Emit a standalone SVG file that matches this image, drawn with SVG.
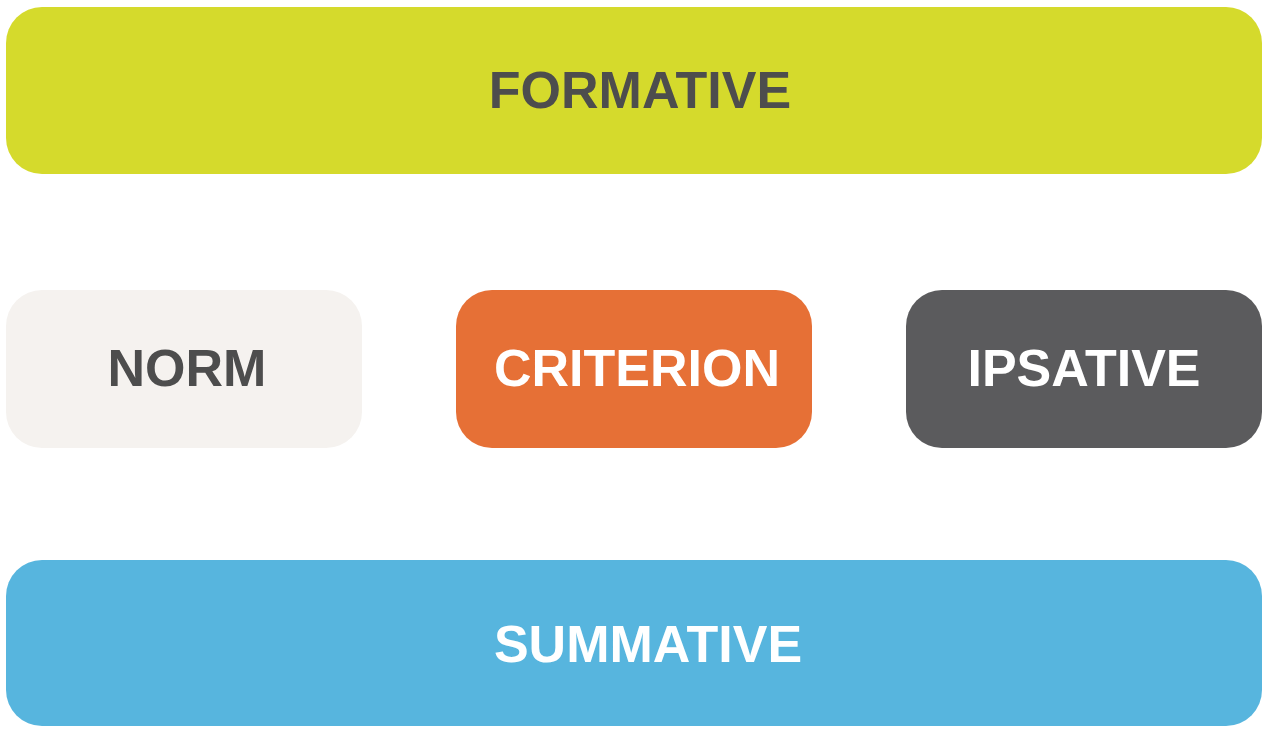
<svg xmlns="http://www.w3.org/2000/svg" width="1269" height="733" viewBox="0 0 1269 733">
<style>
text{font-family:"Liberation Sans",Arial,sans-serif;font-weight:bold;font-size:52px;text-anchor:middle;dominant-baseline:central}
.d{fill:#4d4d4d}.w{fill:#ffffff}
</style>
<rect width="1269" height="733" fill="#fff"/>
<g id="formative"><rect x="6" y="7" width="1256" height="167" rx="36" fill="#d5da2c"/><text class="d" x="640" y="90">FORMATIVE</text></g>
<g id="norm"><rect x="6" y="290" width="356" height="158" rx="36" fill="#f5f2ef"/><text class="d" x="187" y="368">NORM</text></g>
<g id="criterion"><rect x="456" y="290" width="356" height="158" rx="36" fill="#e67036"/><text class="w" x="637" y="368">CRITERION</text></g>
<g id="ipsative"><rect x="906" y="290" width="356" height="158" rx="36" fill="#5b5b5d"/><text class="w" x="1084" y="368">IPSATIVE</text></g>
<g id="summative"><rect x="6" y="560" width="1256" height="166" rx="36" fill="#57b5de"/><text class="w" x="648" y="644">SUMMATIVE</text></g>
<g id="connectors"/>
</svg>
